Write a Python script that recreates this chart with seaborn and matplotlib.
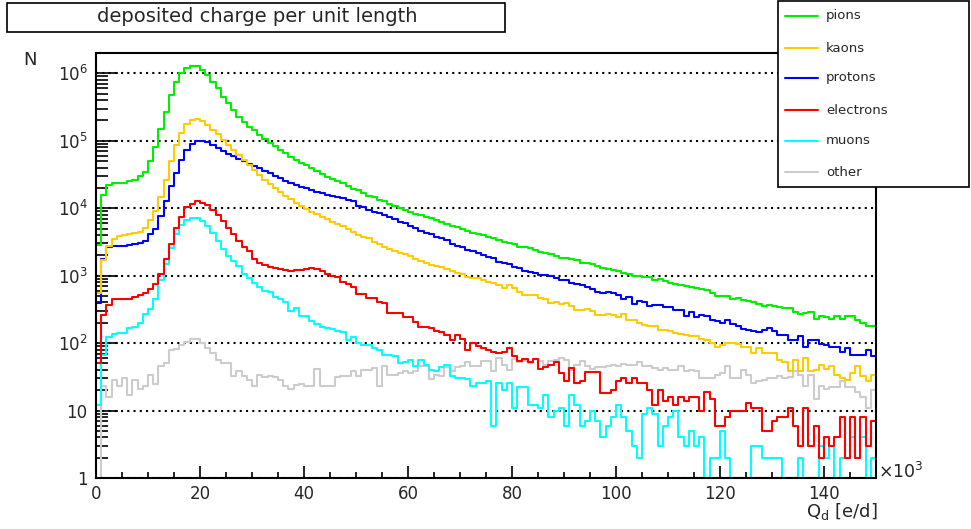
import matplotlib
matplotlib.use("Agg")
import matplotlib.pyplot as plt
from matplotlib.lines import Line2D
from matplotlib.patches import Rectangle
from matplotlib.ticker import LogLocator, MultipleLocator, NullFormatter
import numpy as np
import pandas as pd
import seaborn as sns


# Histogram binning: Q_d in units of 10^3 e/d, 150 bins of width 1
bin_edges = list(range(0, 151))

species = ["pions", "kaons", "protons", "electrons", "muons", "other"]
colors = ["#00ee00", "#ffcc00", "#0000ff", "#ff0000", "#00ffff", "#cccccc"]

# Bin contents (bins 0..149)
pions = [
    2800, 15700, 22000, 23500, 24000, 24000, 25000, 26500, 30000, 35000,
    50000, 81000, 148000, 270000, 480000, 750000, 1000000, 1190000, 1290000, 1270000,
    1120000, 940000, 750000, 597000, 450000, 358000, 285000, 227000, 191000, 161000,
    144000, 122000, 105000, 93000, 83000, 73000, 65000, 58000, 52000, 47000,
    43000, 39000, 35500, 32000, 29500, 27000, 25000, 23500, 21500, 19100,
    18700, 16700, 15200, 14600, 13300, 12600, 11600, 10800, 10000, 9450,
    8920, 8240, 7960, 7520, 7100, 6710, 6340, 5850, 5470, 5220,
    4880, 4660, 4350, 4160, 4020, 3800, 3580, 3390, 3200, 3090,
    2950, 2700, 2700, 2550, 2410, 2270, 2150, 2100, 1960, 1810,
    1810, 1750, 1710, 1560, 1525, 1490, 1390, 1290, 1240, 1230,
    1190, 1090, 1065, 995, 973, 951, 951, 867, 888, 820,
    774, 757, 731, 707, 675, 653, 631, 603, 550, 491,
    491, 491, 449, 464, 439, 414, 400, 383, 357, 370,
    349, 341, 330, 330, 294, 272, 278, 285, 227, 248,
    243, 227, 248, 227, 248, 248, 222, 202, 181, 177,
]
kaons = [
    550, 1700, 2750, 3550, 3900, 4000, 4100, 4250, 4500, 5100,
    6600, 9000, 14500, 26500, 49500, 87000, 130000, 176000, 204000, 210000,
    193000, 172000, 145000, 126000, 104000, 87000, 74000, 62000, 52000, 44000,
    36800, 31000, 26600, 22800, 19900, 17400, 15200, 13500, 11900, 10800,
    9730, 8800, 8070, 7410, 6800, 6250, 5840, 5470, 4900, 4400,
    4020, 3800, 3590, 3200, 2950, 2700, 2460, 2350, 2200, 2100,
    1960, 1750, 1670, 1525, 1440, 1390, 1330, 1240, 1190, 1110,
    1060, 966, 912, 912, 863, 815, 770, 727, 649, 727,
    649, 578, 516, 516, 516, 461, 450, 390, 400, 380,
    390, 350, 311, 311, 320, 300, 262, 262, 270, 263,
    243, 272, 222, 217, 202, 187, 181, 177, 158, 158,
    149, 141, 137, 133, 126, 126, 115, 112, 100, 89,
    94, 100, 100, 98, 89, 89, 71, 84, 71, 71,
    71, 56, 53, 38, 56, 38, 60, 38, 40, 48,
    42, 45, 34, 30, 28, 36, 45, 32, 27, 34,
]
protons = [
    390, 1750, 2700, 2750, 2750, 2750, 2800, 2900, 3080, 3250,
    4080, 4840, 7620, 12700, 21100, 33300, 52400, 73600, 89300, 100000,
    100000, 95600, 87000, 78000, 69500, 63500, 58700, 54200, 49500, 45000,
    42600, 39000, 36000, 32900, 30000, 27700, 25600, 23900, 22100, 20800,
    19700, 18600, 17600, 16600, 15700, 15200, 14600, 14100, 13300, 12600,
    10800, 10400, 9450, 8920, 8430, 7960, 7350, 6870, 6340, 5990,
    5470, 5050, 4660, 4250, 4160, 3710, 3580, 3390, 2950, 2760,
    2640, 2410, 2350, 2200, 2030, 1920, 1810, 1610, 1525, 1490,
    1360, 1290, 1190, 1150, 1110, 1020, 1020, 990, 912, 863,
    863, 788, 752, 727, 687, 627, 578, 560, 578, 550,
    520, 449, 480, 383, 414, 400, 349, 370, 370, 341,
    341, 312, 312, 248, 285, 243, 263, 254, 222, 210,
    202, 217, 193, 177, 161, 154, 149, 144, 158, 167,
    149, 133, 133, 112, 112, 126, 89, 112, 110, 98,
    94, 89, 89, 73, 84, 67, 67, 67, 80, 65,
]
electrons = [
    50, 262, 370, 445, 450, 445, 458, 490, 520, 561,
    629, 745, 1070, 1740, 2900, 5010, 7370, 10300, 11600, 12700,
    12000, 11070, 9550, 8050, 6420, 5010, 4080, 3250, 2650, 2320,
    1750, 1520, 1440, 1330, 1290, 1260, 1210, 1180, 1210, 1210,
    1245, 1290, 1260, 1180, 1060, 1000, 945, 815, 740, 672,
    536, 536, 462, 462, 400, 390, 277, 277, 277, 242,
    242, 209, 176, 176, 167, 149, 144, 133, 112, 133,
    115, 78, 100, 91, 84, 80, 75, 71, 75, 84,
    65, 54, 58, 52, 58, 41, 44, 48, 52, 36,
    27, 43, 26, 27, 37, 37, 37, 18, 18, 20,
    27, 30, 26, 30, 26, 26, 20, 12, 20, 14,
    16, 12, 16, 14, 16, 16, 10, 19, 15, 6,
    6, 8, 10, 10, 10, 13, 11, 11, 5, 5,
    7, 8, 8, 11, 6, 3, 11, 3, 6, 2,
    4, 3, 4, 8, 2, 8, 2, 8, 3, 7,
]
muons = [
    12, 67, 125, 135, 140, 142, 170, 175, 200, 270,
    318, 447, 853, 1470, 2530, 4080, 5610, 6650, 7200, 7040,
    6420, 5420, 4320, 3250, 2450, 1950, 1650, 1390, 1050, 913,
    780, 690, 600, 570, 480, 450, 412, 300, 330, 250,
    248, 210, 190, 176, 170, 160, 152, 148, 110, 123,
    100, 94, 94, 84, 80, 67, 67, 64, 51, 52,
    57, 45, 57, 48, 40, 39, 44, 48, 32, 30,
    30, 29, 23, 26, 26, 27, 6, 26, 20, 26,
    11, 22, 22, 12, 12, 11, 17, 8, 10, 11,
    6, 17, 12, 6, 7, 10, 7, 4, 6, 8,
    12, 8, 5, 3, 2, 9, 11, 9, 3, 6,
    8, 10, 4, 3, 5, 3, 4, 1, 2, 2,
    5, 2, 1, 1, 1, 1, 3, 3, 2, 2,
    2, 2, 1, 1, 1, 2, 1, 1, 1, 3,
    2, 3, 1, 2, 2, 4, 2, 4, 1, 2,
]
other = [
    1, 23, 16, 28, 23, 30, 17, 28, 21, 23,
    34, 25, 45, 50, 80, 82, 94, 105, 114, 114,
    100, 84, 71, 56, 50, 50, 33, 38, 33, 28,
    23, 34, 31, 32, 31, 28, 23, 21, 24, 25,
    23, 23, 41, 23, 23, 23, 31, 33, 32, 38,
    32, 40, 40, 43, 23, 45, 34, 34, 36, 38,
    36, 38, 46, 46, 29, 34, 32, 44, 38, 44,
    46, 52, 46, 46, 55, 54, 38, 60, 48, 40,
    58, 52, 54, 50, 58, 54, 48, 54, 57, 60,
    57, 40, 48, 55, 46, 41, 44, 44, 46, 48,
    45, 49, 48, 47, 53, 45, 45, 43, 40, 43,
    40, 40, 45, 38, 40, 38, 30, 30, 30, 34,
    36, 45, 30, 30, 40, 34, 26, 27, 28, 30,
    30, 32, 30, 31, 38, 34, 23, 34, 15, 23,
    21, 22, 22, 27, 22, 22, 19, 16, 11, 20,
]

counts = {
    "pions": pions,
    "kaons": kaons,
    "protons": protons,
    "electrons": electrons,
    "muons": muons,
    "other": other,
}

# Long table: one row per bin and particle type
bin_centers = np.arange(150) + 0.5
df = pd.concat(
    [pd.DataFrame({"q": bin_centers, "n": vals, "particle": name})
     for name, vals in counts.items()],
    ignore_index=True,
)

sns.set_style("ticks")
plt.rcParams["font.family"] = ["DejaVu Sans", "Noto Sans"]
plt.rcParams["mathtext.fontset"] = "dejavusans"

W, H = 971, 529
fig = plt.figure(figsize=(W / 100, H / 100), dpi=100)
ax = fig.add_axes([96 / W, 1 - 478 / H, 780 / W, 425 / H])

sns.histplot(
    data=df, x="q", weights="n", hue="particle", hue_order=species,
    palette=colors, bins=bin_edges, element="step", fill=False,
    linewidth=1.5, legend=False, ax=ax,
)

ax.set_yscale("log")
ax.set_xlim(0, 150)
ax.set_ylim(1, 2e6)
ax.set_xlabel("")
ax.set_ylabel("")

# ROOT-like frame, ticks and dotted grid
for sp in ax.spines.values():
    sp.set_linewidth(1.5)
    sp.set_color("black")
ax.set_axisbelow(True)
ax.yaxis.grid(True, which="major", linestyle=(0, (1, 2)), color="black", linewidth=1.5)
ax.xaxis.grid(False)

ax.xaxis.set_minor_locator(MultipleLocator(5))
ax.set_xticks(np.arange(0, 141, 20))
ax.set_xticklabels([str(v) for v in range(0, 141, 20)])

ax.set_yticks([1, 10, 1e2, 1e3, 1e4, 1e5, 1e6])
ax.set_yticklabels(["1", "10", "$10^{2}$", "$10^{3}$", "$10^{4}$", "$10^{5}$", "$10^{6}$"])
ax.yaxis.set_minor_locator(LogLocator(base=10, subs=np.arange(2, 10), numticks=20))
ax.yaxis.set_minor_formatter(NullFormatter())

ax.tick_params(axis="both", which="both", direction="in", top=False, right=False,
               color="black", width=1.2)
ax.tick_params(axis="x", which="major", length=8.6, labelsize=12, pad=5)
ax.tick_params(axis="x", which="minor", length=4.5)
ax.tick_params(axis="y", which="major", length=16, labelsize=12, pad=6)
ax.tick_params(axis="y", which="minor", length=8.6)

# axis titles
fig.text(30 / W, 1 - 60 / H, "N", ha="center", va="center", fontsize=13)
fig.text(878 / W, 1 - 478 / H, r"$\times$10$^{3}$", ha="left", va="baseline", fontsize=12.5)
fig.text(878 / W, 1 - 512 / H, r"Q$_{\mathrm{d}}$ [e/d]", ha="right", va="center", fontsize=13)

# title box
fig.add_artist(Rectangle((7 / W, 1 - 32 / H), 498 / W, 29 / H, transform=fig.transFigure,
                         facecolor="white", edgecolor="black", linewidth=1.2))
fig.text(257 / W, 1 - 17 / H, "deposited charge per unit length",
         ha="center", va="center", fontsize=14)

# legend box (drawn by hand, ROOT TLegend style)
fig.add_artist(Rectangle((778 / W, 1 - 187 / H), 191 / W, 186 / H, transform=fig.transFigure,
                         facecolor="white", edgecolor="black", linewidth=1.2, zorder=5))
row_y = [16, 48, 78, 110, 141, 172]
for name, col, yy in zip(species, colors, row_y):
    fig.add_artist(Line2D([785 / W, 818 / W], [1 - yy / H, 1 - yy / H],
                          transform=fig.transFigure, color=col, linewidth=1.5, zorder=6))
    fig.text(826 / W, 1 - yy / H, name, ha="left", va="center", fontsize=9.5, zorder=6)

fig.savefig("out.png", dpi=100)
